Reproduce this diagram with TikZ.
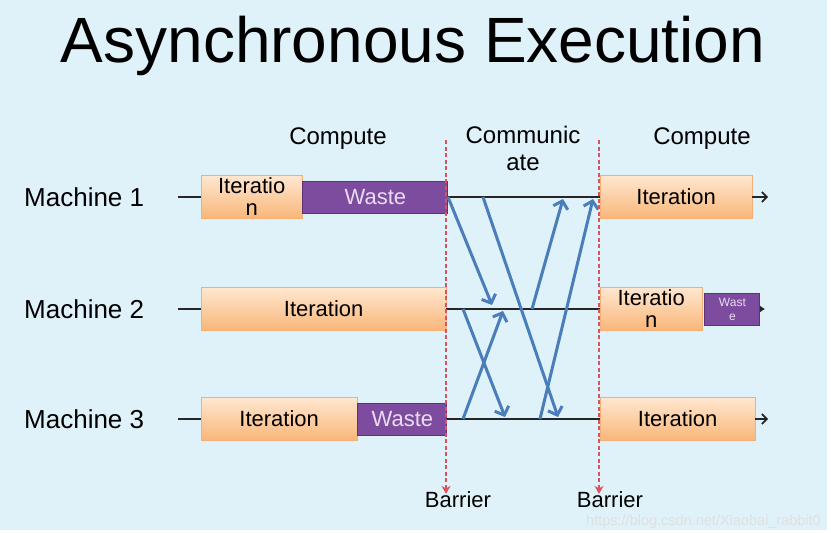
\documentclass[tikz,border=0pt]{standalone}
\usepackage{fontspec}
\setmainfont{Liberation Sans}
\usetikzlibrary{arrows.meta,calc,positioning}
\definecolor{bgblue}{HTML}{DFF1F9}
\definecolor{itertop}{HTML}{FFE7D0}
\definecolor{iterbot}{HTML}{F9B679}
\definecolor{iterline}{HTML}{F2AF78}
\definecolor{wastefill}{HTML}{7E4C9E}
\definecolor{wasteline}{HTML}{5B3478}
\definecolor{wastetext}{HTML}{E8DDF2}
\definecolor{msgblue}{HTML}{4A7EBB}
\definecolor{barred}{HTML}{D8535E}
\tikzset{
  iterbox/.style={draw=iterline, top color=itertop, bottom color=iterbot, minimum height=43pt, inner sep=0pt, align=center, anchor=west, font=\fontsize{22}{22}\selectfont},
  wastebox/.style={draw=wasteline, line width=1pt, fill=wastefill, text=wastetext, minimum height=32pt, inner sep=0pt, align=center, anchor=west, font=\fontsize{22}{22}\selectfont},
  rowline/.style={line width=1.6pt, black!85},
  msg/.style={msgblue, line width=3pt, -{Straight Barb[length=7pt,width=15pt]}},
  barrier/.style={barred, line width=1.8pt, dash pattern=on 4pt off 2.5pt, -{Stealth[length=8pt,width=9pt]}},
  lbl/.style={font=\fontsize{24}{27}\selectfont, inner sep=0pt},
}

\begin{document}
\begin{tikzpicture}[x=1pt,y=-1pt]
    \useasboundingbox (0,0) rectangle (831,533);
    \fill[white] (0,0) rectangle (831,533);
    \fill[bgblue] (0,0) rectangle (827,530);
    \node[anchor=base, font=\fontsize{64}{64}\selectfont] (title) at (413,62) {Asynchronous Execution};
    \node[lbl, anchor=base] (comp1) at (338,144) {Compute};
    \node[lbl, anchor=north, align=center] (comm) at (523,126) {Communic\\ate};
    \node[lbl, anchor=base] (comp2) at (702,144) {Compute};
    \node[lbl, anchor=west, font=\fontsize{26}{26}\selectfont] (m1) at (24,197) {Machine 1};
    \node[lbl, anchor=west, font=\fontsize{26}{26}\selectfont] (m2) at (24,309) {Machine 2};
    \node[lbl, anchor=west, font=\fontsize{26}{26}\selectfont] (m3) at (24,419) {Machine 3};
    \coordinate (d1) at (178,197);
    \coordinate (d2) at (178,309);
    \coordinate (d3) at (178,419);
    \node[iterbox, minimum width=101pt] (it1) at (201,197) {Iteratio\\n};
    \node[wastebox, minimum width=145pt] (w1) at (it1.east) {Waste};
    \node[iterbox, minimum width=245pt] (it2) at (201,309) {Iteration};
    \node[iterbox, minimum width=156pt] (it3) at (201,419) {Iteration};
    \node[wastebox, minimum width=89pt] (w3) at (it3.east) {Waste};
    \node[iterbox, minimum width=152pt] (ir1) at (600,197) {Iteration};
    \node[iterbox, minimum width=102pt] (ir2) at (600,309) {Iteratio\\n};
    \node[wastebox, minimum width=55pt, font=\fontsize{12}{14}\selectfont] (wr2) at ([xshift=2pt]ir2.east) {Wast\\e};
    \node[iterbox, minimum width=155pt] (ir3) at (600,419) {Iteration};
    \coordinate (e1) at (768,197);
    \coordinate (e2) at (765,309);
    \coordinate (e3) at (768,419);
    \draw[rowline] (d1) -- (it1);
    \draw[rowline] (d2) -- (it2);
    \draw[rowline] (d3) -- (it3);
    \draw[rowline] (w1.east) -- (ir1.west);
    \draw[rowline] (it2.east) -- (ir2.west);
    \draw[rowline] (w3.east) -- (ir3.west);
    \draw[rowline, -{Straight Barb[length=5pt,width=10pt]}] (ir1.east) -- (e1);
    \draw[rowline, -{Latex[length=5pt,width=7pt]}] (wr2.east) -- (e2);
    \draw[rowline, -{Straight Barb[length=5pt,width=10pt]}] (ir3.east) -- (e3);
    \coordinate (s1) at (448,197);
    \coordinate (t1) at (492,305);
    \coordinate (s2) at (483,197);
    \coordinate (t2) at (558,417);
    \coordinate (s3) at (532,309);
    \coordinate (t3) at (563,199);
    \coordinate (s4) at (540,419);
    \coordinate (t4) at (593,199);
    \coordinate (s5) at (463,309);
    \coordinate (t5) at (505,417);
    \coordinate (s6) at (463,419);
    \coordinate (t6) at (503,311);
    \foreach \i in {1,...,6}
        \draw[msg] (s\i) -- (t\i);
    \node[lbl, anchor=base, font=\fontsize{22}{22}\selectfont] (bar1) at (458,507) {Barrier};
    \node[lbl, anchor=base, font=\fontsize{22}{22}\selectfont] (bar2) at (610,507) {Barrier};
    \coordinate (bt1) at (446,140);
    \coordinate (bt2) at (599,140);
    \draw[barrier] (bt1) -- ([yshift=-3pt]bt1 |- bar1.north);
    \draw[barrier] (bt2) -- ([yshift=-3pt]bt2 |- bar2.north);
    \node[anchor=base east, inner sep=0pt, font=\fontsize{14.5}{15}\selectfont, text=black!12] (wm) at (821,525) {https://blog.csdn.net/Xiaobai\_rabbit0};
\end{tikzpicture}
\end{document}
